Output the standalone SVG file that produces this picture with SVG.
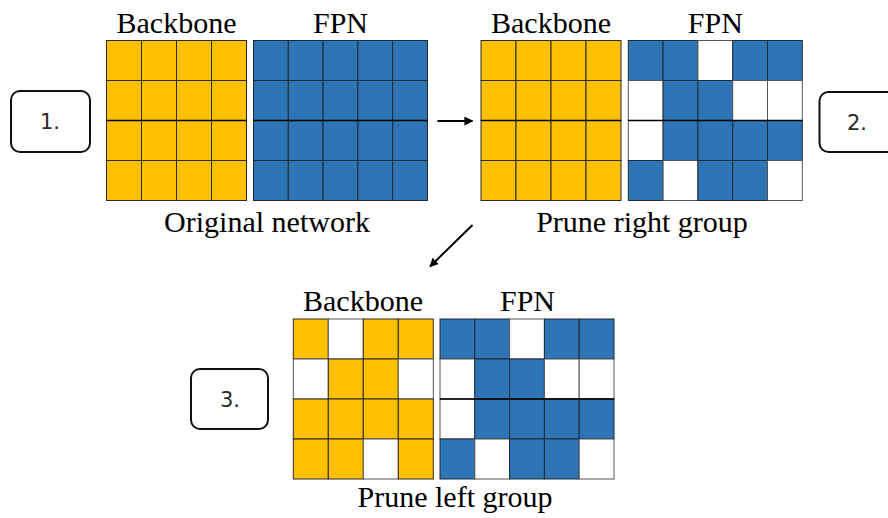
<svg xmlns="http://www.w3.org/2000/svg" width="888" height="518" viewBox="0 0 888 518">
  <style>
    .y { fill: #FFC000; stroke: #2b2b2b; stroke-width: 1; }
    .b { fill: #2E75B6; stroke: #1f2a36; stroke-width: 1; }
    .w { fill: #ffffff; stroke: #555555; stroke-width: 1; }
    .mid { stroke: #000000; stroke-width: 1.6; }
    .lbl { font-family: "Liberation Serif", "Times New Roman", serif; font-size: 30px; fill: #000000; text-anchor: middle; }
    .step rect { fill: #ffffff; stroke: #111111; stroke-width: 2; }
    .step text { font-family: "DejaVu Sans", Verdana, sans-serif; font-size: 21px; fill: #2a2a2a; text-anchor: middle; }
    .conn { stroke: #000000; stroke-width: 2; fill: none; }
  </style>
  <defs>
    <marker id="head" viewBox="0 0 10 10" refX="9" refY="5" markerWidth="4.5" markerHeight="4.5" orient="auto" markerUnits="strokeWidth">
      <path d="M0,0 L10,5 L0,10 z" fill="#000000"/>
    </marker>
    <!-- full 4x4 backbone block -->
    <g id="bbFull">
      <rect class="y" x="0" y="0" width="35" height="40"/><rect class="y" x="35" y="0" width="35" height="40"/><rect class="y" x="70" y="0" width="35" height="40"/><rect class="y" x="105" y="0" width="35" height="40"/>
      <rect class="y" x="0" y="40" width="35" height="40"/><rect class="y" x="35" y="40" width="35" height="40"/><rect class="y" x="70" y="40" width="35" height="40"/><rect class="y" x="105" y="40" width="35" height="40"/>
      <rect class="y" x="0" y="80" width="35" height="40"/><rect class="y" x="35" y="80" width="35" height="40"/><rect class="y" x="70" y="80" width="35" height="40"/><rect class="y" x="105" y="80" width="35" height="40"/>
      <rect class="y" x="0" y="120" width="35" height="40"/><rect class="y" x="35" y="120" width="35" height="40"/><rect class="y" x="70" y="120" width="35" height="40"/><rect class="y" x="105" y="120" width="35" height="40"/>
      <line class="mid" x1="0" y1="80" x2="140" y2="80"/>
    </g>
    <!-- full 4x5 FPN block -->
    <g id="fpnFull">
      <rect class="b" x="0" y="0" width="34.8" height="40"/><rect class="b" x="34.8" y="0" width="34.8" height="40"/><rect class="b" x="69.6" y="0" width="34.8" height="40"/><rect class="b" x="104.4" y="0" width="34.8" height="40"/><rect class="b" x="139.2" y="0" width="34.8" height="40"/>
      <rect class="b" x="0" y="40" width="34.8" height="40"/><rect class="b" x="34.8" y="40" width="34.8" height="40"/><rect class="b" x="69.6" y="40" width="34.8" height="40"/><rect class="b" x="104.4" y="40" width="34.8" height="40"/><rect class="b" x="139.2" y="40" width="34.8" height="40"/>
      <rect class="b" x="0" y="80" width="34.8" height="40"/><rect class="b" x="34.8" y="80" width="34.8" height="40"/><rect class="b" x="69.6" y="80" width="34.8" height="40"/><rect class="b" x="104.4" y="80" width="34.8" height="40"/><rect class="b" x="139.2" y="80" width="34.8" height="40"/>
      <rect class="b" x="0" y="120" width="34.8" height="40"/><rect class="b" x="34.8" y="120" width="34.8" height="40"/><rect class="b" x="69.6" y="120" width="34.8" height="40"/><rect class="b" x="104.4" y="120" width="34.8" height="40"/><rect class="b" x="139.2" y="120" width="34.8" height="40"/>
      <line class="mid" x1="0" y1="80" x2="174" y2="80"/>
    </g>
    <!-- pruned 4x5 FPN block -->
    <g id="fpnPruned">
      <rect class="b" x="0" y="0" width="34.8" height="40"/><rect class="b" x="34.8" y="0" width="34.8" height="40"/><rect class="w" x="69.6" y="0" width="34.8" height="40"/><rect class="b" x="104.4" y="0" width="34.8" height="40"/><rect class="b" x="139.2" y="0" width="34.8" height="40"/>
      <rect class="w" x="0" y="40" width="34.8" height="40"/><rect class="b" x="34.8" y="40" width="34.8" height="40"/><rect class="b" x="69.6" y="40" width="34.8" height="40"/><rect class="w" x="104.4" y="40" width="34.8" height="40"/><rect class="w" x="139.2" y="40" width="34.8" height="40"/>
      <rect class="w" x="0" y="80" width="34.8" height="40"/><rect class="b" x="34.8" y="80" width="34.8" height="40"/><rect class="b" x="69.6" y="80" width="34.8" height="40"/><rect class="b" x="104.4" y="80" width="34.8" height="40"/><rect class="b" x="139.2" y="80" width="34.8" height="40"/>
      <rect class="b" x="0" y="120" width="34.8" height="40"/><rect class="w" x="34.8" y="120" width="34.8" height="40"/><rect class="b" x="69.6" y="120" width="34.8" height="40"/><rect class="b" x="104.4" y="120" width="34.8" height="40"/><rect class="w" x="139.2" y="120" width="34.8" height="40"/>
      <line class="mid" x1="0" y1="80" x2="174" y2="80"/>
    </g>
  </defs>

  <!-- stage 1: original network -->
  <g id="stage1">
    <g class="step"><rect x="11" y="91" width="79" height="61" rx="9"/><text x="50" y="128.5">1.</text></g>
    <text class="lbl" x="176.5" y="33">Backbone</text>
    <text class="lbl" x="340.5" y="33">FPN</text>
    <use href="#bbFull" x="106.5" y="40.5"/>
    <use href="#fpnFull" x="253.5" y="40.5"/>
    <text class="lbl" x="267" y="232">Original network</text>
  </g>

  <!-- stage 2: prune right group -->
  <g id="stage2">
    <g class="step"><rect x="819.5" y="92" width="80" height="60" rx="9"/><text x="857" y="129.5">2.</text></g>
    <text class="lbl" x="551" y="33">Backbone</text>
    <text class="lbl" x="715.3" y="33">FPN</text>
    <use href="#bbFull" x="481" y="40.5"/>
    <use href="#fpnPruned" x="628.3" y="40.5"/>
    <text class="lbl" x="642" y="232">Prune right group</text>
  </g>

  <!-- stage 3: prune left group -->
  <g id="stage3">
    <g class="step"><rect x="191" y="369" width="77" height="60" rx="9"/><text x="230" y="406.5">3.</text></g>
    <text class="lbl" x="363" y="311">Backbone</text>
    <text class="lbl" x="527.5" y="311">FPN</text>
    <g transform="translate(293.3,319)">
      <rect class="y" x="0" y="0" width="35" height="40"/><rect class="w" x="35" y="0" width="35" height="40"/><rect class="y" x="70" y="0" width="35" height="40"/><rect class="y" x="105" y="0" width="35" height="40"/>
      <rect class="w" x="0" y="40" width="35" height="40"/><rect class="y" x="35" y="40" width="35" height="40"/><rect class="y" x="70" y="40" width="35" height="40"/><rect class="w" x="105" y="40" width="35" height="40"/>
      <rect class="y" x="0" y="80" width="35" height="40"/><rect class="y" x="35" y="80" width="35" height="40"/><rect class="y" x="70" y="80" width="35" height="40"/><rect class="y" x="105" y="80" width="35" height="40"/>
      <rect class="y" x="0" y="120" width="35" height="40"/><rect class="y" x="35" y="120" width="35" height="40"/><rect class="w" x="70" y="120" width="35" height="40"/><rect class="y" x="105" y="120" width="35" height="40"/>
    </g>
    <use href="#fpnPruned" x="440" y="319"/>
    <text class="lbl" x="455" y="507">Prune left group</text>
  </g>

  <!-- connectors -->
  <g id="connectors">
    <line class="conn" x1="437.5" y1="121" x2="472.5" y2="121" marker-end="url(#head)"/>
    <line class="conn" x1="472.5" y1="225" x2="430" y2="266.5" marker-end="url(#head)"/>
  </g>
</svg>
